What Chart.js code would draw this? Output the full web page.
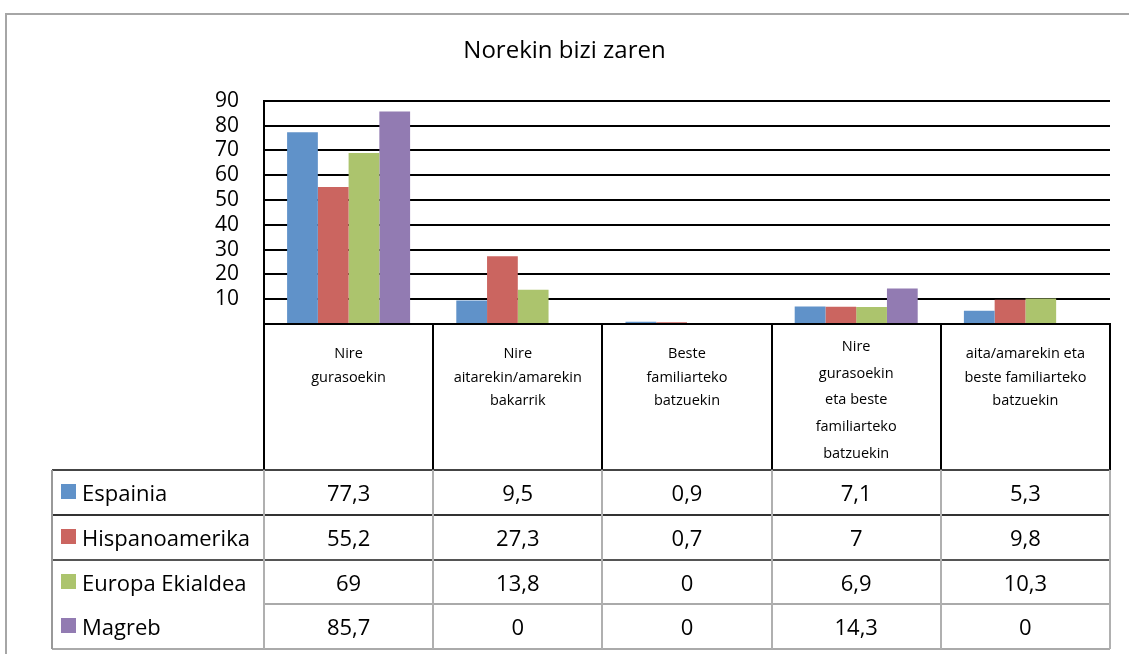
<!DOCTYPE html>
<html>
<head>
<meta charset="utf-8">
<script src="https://cdn.jsdelivr.net/npm/chart.js@4.4.1/dist/chart.umd.min.js"></script>
<style>
    body { margin: 0; background: #fff; }
    #wrap { position: relative; width: 1129px; height: 654px; overflow: hidden; font-family: 'Open Sans', 'Noto Sans', sans-serif; color: #000; }
    #chart { position: absolute; left: 0; top: 0; }
    .ln { position: absolute; }
    .txt { position: absolute; white-space: nowrap; }
</style>
</head>
<body>
<div id="wrap">
    <canvas id="chart" width="1129" height="654"></canvas>
</div>
<script>
// chart data
const categories = [
    'Nire|gurasoekin',
    'Nire|aitarekin/amarekin|bakarrik',
    'Beste|familiarteko|batzuekin',
    'Nire|gurasoekin|eta beste|familiarteko|batzuekin',
    'aita/amarekin eta|beste familiarteko|batzuekin'
];
const seriesNames = ['Espainia', 'Hispanoamerika', 'Europa Ekialdea', 'Magreb'];
const espainia = [77.3, 9.5, 0.9, 7.1, 5.3];
const hispanoamerika = [55.2, 27.3, 0.7, 7, 9.8];
const europaEkialdea = [69, 13.8, 0, 6.9, 10.3];
const magreb = [85.7, 0, 0, 14.3, 0];
const seriesColors = ['#6092c9', '#cb6560', '#acc46d', '#927bb2'];
const yTicks = [0, 10, 20, 30, 40, 50, 60, 70, 80, 90];

const seriesValues = [espainia, hispanoamerika, europaEkialdea, magreb];
const wrap = document.getElementById('wrap');
const fontName = 'Open Sans';

function line(x, y, w, h, color) {
    const d = document.createElement('div');
    d.className = 'ln';
    d.style.left = x + 'px';
    d.style.top = y + 'px';
    d.style.width = w + 'px';
    d.style.height = h + 'px';
    d.style.background = color;
    wrap.appendChild(d);
}

function text(str, x, y, w, h, size, align) {
    const d = document.createElement('div');
    d.className = 'txt';
    d.textContent = str;
    d.style.left = x + 'px';
    d.style.top = y + 'px';
    d.style.width = w + 'px';
    d.style.height = h + 'px';
    d.style.lineHeight = h + 'px';
    d.style.fontSize = size + 'px';
    d.style.textAlign = align || 'center';
    wrap.appendChild(d);
    return d;
}

const chart = new Chart(document.getElementById('chart').getContext('2d'), {
    type: 'bar',
    data: {
        labels: categories.map(c => c.split('|').join(' ')),
        datasets: seriesNames.map((name, i) => ({
            label: name,
            data: seriesValues[i],
            backgroundColor: seriesColors[i],
            borderWidth: 0,
            barPercentage: 1,
            categoryPercentage: 0.727
        }))
    },
    options: {
        responsive: false,
        animation: false,
        layout: { padding: { left: 0, right: 0, top: 0, bottom: 330 } },
        plugins: {
            legend: { display: false },
            tooltip: { enabled: false },
            title: {
                display: true,
                text: 'Norekin bizi zaren',
                color: '#000',
                font: { family: fontName, size: 24, weight: 'normal' },
                padding: { top: 37, bottom: 35 }
            }
        },
        scales: {
            x: {
                grid: { display: false },
                ticks: { display: false },
                border: { display: true, color: '#000', width: 2 },
                afterFit: s => { s.height = 0; }
            },
            y: {
                min: 0,
                max: 90,
                afterBuildTicks: s => { s.ticks = yTicks.map(v => ({ value: v })); },
                afterFit: s => { s.width = 264; },
                grid: { color: '#000', lineWidth: 2, drawTicks: false },
                border: { display: true, color: '#000', width: 2 },
                ticks: {
                    color: '#000',
                    padding: 25,
                    autoSkip: false,
                    font: { family: fontName, size: 21 },
                    callback: v => v === 0 ? '' : v
                }
            },
            // empty right margin so the title stays centred on the whole page
            yPad: {
                position: 'right',
                grid: { display: false },
                ticks: { display: false },
                border: { display: false },
                afterFit: s => { s.width = 19; }
            }
        }
    }
});

// data table under the plot, built from the x scale
const area = chart.chartArea;
const xs = chart.scales.x;
const edges = [area.left];
for (let i = 0; i < categories.length - 1; i++) {
    edges.push((xs.getPixelForTick(i) + xs.getPixelForTick(i + 1)) / 2);
}
edges.push(area.right);

const tableLeft = 52;
const rowTop = 470;
const rowH = 44.8;
const tableBottom = rowTop + rowH * seriesNames.length;

// outer frame
line(5, 13, 1130, 2, '#a6a6a6');
line(5, 13, 2, 660, '#a6a6a6');

// header cells with category names
edges.forEach(x => line(x - 1, area.bottom, 2, rowTop - area.bottom, '#000'));
categories.forEach((c, i) => {
    const parts = c.split('|');
    const lh = parts.length > 3 ? 26.7 : 23.5;
    const pad = parts.length > 3 ? 9 : 17;
    parts.forEach((p, j) => {
        text(p, edges[i], area.bottom + pad + j * lh, edges[i + 1] - edges[i], lh, 14.5);
    });
});

// row lines
const rowColors = ['#444', '#333', '#555', '#aaa', '#aaa'];
for (let r = 0; r <= seriesNames.length; r++) {
    const y = rowTop + r * rowH - 1;
    if (r === 3) line(area.left, y, area.right - area.left, 2, rowColors[r]);
    else line(tableLeft, y, area.right - tableLeft, 2, rowColors[r]);
}
line(tableLeft - 1, rowTop, 2, tableBottom - rowTop, '#999');
edges.forEach(x => line(x - 1, rowTop, 2, tableBottom - rowTop, '#b0b0b0'));

// rows: legend key + values
seriesNames.forEach((name, r) => {
    const y = rowTop + r * rowH;
    const key = document.createElement('div');
    key.className = 'ln';
    key.style.left = '61px';
    key.style.top = (y + 14) + 'px';
    key.style.width = '15px';
    key.style.height = '15px';
    key.style.background = seriesColors[r];
    wrap.appendChild(key);
    text(name, 82, y, area.left - 82, rowH, 22, 'left');
    seriesValues[r].forEach((v, i) => {
        text(String(v).replace('.', ','), edges[i], y, edges[i + 1] - edges[i], rowH, 22);
    });
});
</script>
</body>
</html>
